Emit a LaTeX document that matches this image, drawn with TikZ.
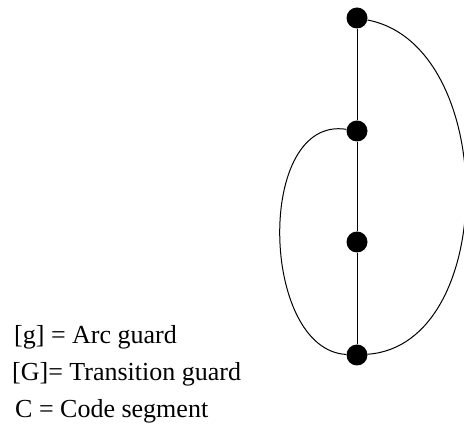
\documentclass[tikz,border=0pt]{standalone}
\usepackage{fontspec}
\setmainfont{Liberation Serif}
\begin{document}
\begin{tikzpicture}[x=1pt,y=1pt,
  dot/.style={circle,fill=black,inner sep=0pt,minimum size=21pt},
  legend/.style={anchor=base west,inner sep=0pt,font=\fontsize{26}{30}\selectfont},
  edge/.style={line width=1pt}]
\useasboundingbox (0,0) rectangle (464,428);
\node[dot] (n1) at (357,410) {};
\node[dot] (n2) at (357,297) {};
\node[dot] (n3) at (357,186) {};
\node[dot] (n4) at (357,73) {};
\draw[edge] (n1) -- (n2) -- (n3) -- (n4);
\draw[edge] (n1) .. controls (499,383) and (499,83) .. (n4);
\draw[edge] (n2) .. controls (255,313) and (260,78) .. (n4);
\node[legend] (l1) at (14,84) {[g] = Arc guard};
\node[legend] (l2) at (12,47) {[G]= Transition guard};
\node[legend] (l3) at (15,10) {C = Code segment};
\end{tikzpicture}
\end{document}
